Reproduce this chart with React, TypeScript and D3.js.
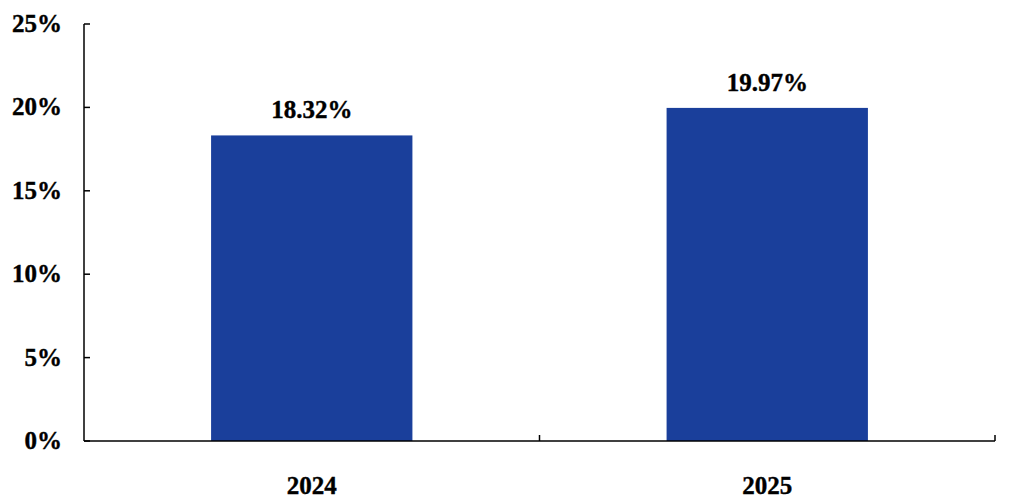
import React from "react";
import * as d3 from "d3";

const categories = ["2024", "2025"];
const values = [18.32, 19.97];
const valueLabels = ["18.32%", "19.97%"];
const yTicks = [0, 5, 10, 15, 20, 25];

const W = 1012;
const H = 502;
const margin = { left: 84, right: 17, top: 24, bottom: 61 };

export default function App() {
  const x = d3
    .scaleBand<string>()
    .domain(categories)
    .range([margin.left, W - margin.right])
    .paddingInner(0.558)
    .paddingOuter(0.279);
  const band = d3.scaleBand<string>().domain(categories).range([margin.left, W - margin.right]);
  const y = d3.scaleLinear().domain([0, 25]).range([H - margin.bottom, margin.top]);
  const y0 = y(0);
  const boundaries = [margin.left, ...categories.map((c) => (band(c) as number) + band.bandwidth())];
  const textStyle = {
    fontFamily: "Liberation Serif",
    fontWeight: 700 as const,
    fontSize: "25px",
    stroke: "#000",
    strokeWidth: 0.4,
  };

  return (
    <svg
      width={W}
      height={H}
      style={{ position: "absolute", left: 0, top: 0, background: "#fff" }}
    >
      {categories.map((c, i) => (
        <rect
          key={c}
          x={x(c)}
          y={y(values[i])}
          width={x.bandwidth()}
          height={y0 - y(values[i])}
          fill="#1a3f9b"
        />
      ))}
      {categories.map((c, i) => (
        <text
          key={"v" + c}
          x={(x(c) as number) + x.bandwidth() / 2}
          y={y(values[i]) - 17}
          textAnchor="middle"
          style={textStyle}
          fill="#000"
        >
          {valueLabels[i]}
        </text>
      ))}
      <line x1={margin.left} x2={margin.left} y1={y(25)} y2={y0} stroke="#000" strokeWidth={1.5} />
      {yTicks.map((t) => (
        <g key={t}>
          <line x1={margin.left} x2={margin.left + 6} y1={y(t)} y2={y(t)} stroke="#000" strokeWidth={1.5} />
          <text x={62} y={y(t)} dy="0.32em" textAnchor="end" style={textStyle} fill="#000">
            {t}%
          </text>
        </g>
      ))}
      <line x1={margin.left} x2={W - margin.right} y1={y0} y2={y0} stroke="#000" strokeWidth={1.5} />
      {boundaries.slice(1).map((bx, i) => (
        <line key={i} x1={bx} x2={bx} y1={y0} y2={y0 - 6} stroke="#000" strokeWidth={1.5} />
      ))}
      {categories.map((c) => (
        <text
          key={"x" + c}
          x={(band(c) as number) + band.bandwidth() / 2}
          y={494}
          textAnchor="middle"
          style={textStyle}
          fill="#000"
        >
          {c}
        </text>
      ))}
    </svg>
  );
}
